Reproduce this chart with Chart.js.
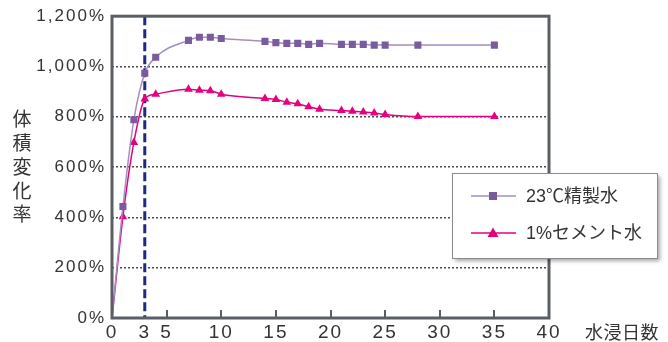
<!DOCTYPE html>
<html>
<head>
<meta charset="utf-8">
<script src="https://cdn.jsdelivr.net/npm/chart.js@4/dist/chart.umd.min.js"></script>
<style>
html,body{margin:0;padding:0;background:#fff;}
canvas{display:block;}
</style>
</head>
<body>
<canvas id="c" width="668" height="342"></canvas>
<script>
// ---- data ----
const days = [0,1,2,3,4,7,8,9,10,14,15,16,17,18,19,21,22,23,24,25,28,35];
const pureWater = [0,443,788,973,1037,1104,1116,1116,1111,1100,1095,1092,1092,1088,1092,1088,1088,1088,1085,1085,1085,1085];
const cementWater = [0,403,698,871,890,910,906,904,890,873,869,858,852,840,830,825,822,819,815,809,801,801];
const seriesNames = ['23℃精製水', '1%セメント水'];
const xTickValues = [0,3,5,10,15,20,25,30,35,40];
const yTickValues = [0,200,400,600,800,1000,1200];
const markerDay = 3;
const yTitle = '体積変化率';
const xTitle = '水浸日数';

const PURPLE_LINE = '#a38fc3';
const PURPLE_MARK = '#7a5c9e';
const PINK = '#e5007f';
const TEXT = '#333333';
const FRAME = '#5a5f65';
const LATIN = "'Liberation Sans', Arial, sans-serif";
const CJK = "'Liberation Sans', 'Noto Sans CJK JP', sans-serif";

function pts(vals){ return days.map((d,i)=>({x:d, y:vals[i]})); }
const hideZero = r => (ctx => (ctx.raw && ctx.raw.x === 0) ? 0 : r);

const decor = {
  id: 'decor',
  beforeDraw(chart){ chart.ctx.letterSpacing = '2px'; },
  beforeDatasetsDraw(chart){
    const {ctx, chartArea:a, scales:{x}} = chart;
    const px = x.getPixelForValue(markerDay);
    ctx.save();
    ctx.letterSpacing = '0px';
    ctx.strokeStyle = '#1d2a80';
    ctx.lineWidth = 3;
    ctx.setLineDash([9,4]);
    ctx.beginPath();
    ctx.moveTo(px, a.top);
    ctx.lineTo(px, a.bottom);
    ctx.stroke();
    ctx.restore();
  },
  afterDraw(chart){
    const {ctx, chartArea:a, scales:{x}} = chart;
    ctx.save();
    ctx.letterSpacing = '0px';
    // tick marks inside
    ctx.strokeStyle = FRAME;
    ctx.lineWidth = 2;
    xTickValues.forEach(v=>{
      if (v === x.min || v === x.max || v === markerDay) return;
      const px = Math.round(x.getPixelForValue(v));
      ctx.beginPath();
      ctx.moveTo(px, a.bottom);
      ctx.lineTo(px, a.bottom - 8);
      ctx.stroke();
    });
    // frame
    ctx.lineWidth = 3;
    ctx.strokeRect(a.left, a.top, a.right - a.left, a.bottom - a.top);
    // y title (vertical stacked)
    ctx.fillStyle = TEXT;
    ctx.font = "19px 'Noto Sans CJK JP', sans-serif";
    ctx.textAlign = 'center';
    ctx.textBaseline = 'middle';
    Array.from(yTitle).forEach((ch,i)=>{
      ctx.fillText(ch, 22, 119 + i*23.8);
    });
    // x title
    ctx.font = "18px 'Noto Sans CJK JP', sans-serif";
    ctx.textAlign = 'left';
    ctx.letterSpacing = '0.5px';
    ctx.fillText(xTitle, 585, 332);
    ctx.letterSpacing = '0px';
    // legend
    const bx = 452, by = 173, bw = 205, bh = 85;
    ctx.save();
    ctx.shadowColor = 'rgba(0,0,0,0.35)';
    ctx.shadowBlur = 4;
    ctx.shadowOffsetX = 3;
    ctx.shadowOffsetY = 3;
    ctx.fillStyle = '#ffffff';
    ctx.fillRect(bx, by, bw, bh);
    ctx.restore();
    ctx.strokeStyle = '#8c8c8c';
    ctx.lineWidth = 1;
    ctx.strokeRect(bx + 0.5, by + 0.5, bw, bh);
    chart.data.datasets.forEach((ds, i)=>{
      const cy = 196 + i*37;
      ctx.strokeStyle = ds.borderColor;
      ctx.lineWidth = 1.5;
      ctx.beginPath();
      ctx.moveTo(471, cy);
      ctx.lineTo(516, cy);
      ctx.stroke();
      ctx.fillStyle = ds.pointBackgroundColor;
      const mx = 493;
      if (ds.pointStyle === 'rect') {
        ctx.fillRect(mx - 4, cy - 4, 8, 8);
      } else {
        ctx.beginPath();
        ctx.moveTo(mx, cy - 5.5);
        ctx.lineTo(mx + 5.5, cy + 4);
        ctx.lineTo(mx - 5.5, cy + 4);
        ctx.closePath();
        ctx.fill();
      }
      ctx.fillStyle = TEXT;
      ctx.font = "18px " + CJK;
      ctx.textAlign = 'left';
      ctx.textBaseline = 'middle';
      ctx.fillText(ds.label, 526, cy + 1);
    });
    ctx.restore();
  }
};

new Chart(document.getElementById('c'), {
  type: 'line',
  data: {
    datasets: [
      {
        label: seriesNames[0],
        data: pts(pureWater),
        borderColor: PURPLE_LINE,
        borderWidth: 1.5,
        pointStyle: 'rect',
        pointRadius: hideZero(5),
        pointBackgroundColor: PURPLE_MARK,
        pointBorderColor: PURPLE_MARK,
        pointBorderWidth: 0,
        cubicInterpolationMode: 'monotone'
      },
      {
        label: seriesNames[1],
        data: pts(cementWater),
        borderColor: PINK,
        borderWidth: 1.5,
        pointStyle: 'triangle',
        pointRadius: hideZero(5),
        pointBackgroundColor: PINK,
        pointBorderColor: PINK,
        pointBorderWidth: 0,
        cubicInterpolationMode: 'monotone'
      }
    ]
  },
  options: {
    responsive: false,
    devicePixelRatio: 1,
    animation: false,
    layout: { padding: { top: 16, right: 119, bottom: 0, left: 0 } },
    plugins: { legend: { display: false }, tooltip: { enabled: false } },
    scales: {
      x: {
        type: 'linear',
        min: 0, max: 40,
        afterBuildTicks: s => { s.ticks = xTickValues.map(v => ({ value: v })); },
        afterFit: s => { s.height = 24; },
        grid: { display: false, drawTicks: false },
        border: { display: false },
        ticks: {
          autoSkip: false, maxRotation: 0, padding: 3,
          color: TEXT,
          font: { family: LATIN, size: 19 }
        }
      },
      y: {
        min: 0, max: 1200,
        afterBuildTicks: s => { s.ticks = yTickValues.map(v => ({ value: v })); },
        afterFit: s => { s.width = 112; },
        grid: {
          drawTicks: false,
          lineWidth: 1.5,
          color: c => (c.tick && (c.tick.value === 0 || c.tick.value === 1200)) ? 'rgba(0,0,0,0)' : '#4a4a4a'
        },
        border: { display: false, dash: [2, 2] },
        ticks: {
          padding: 6,
          color: TEXT,
          font: { family: LATIN, size: 17 },
          callback: v => v.toLocaleString('en-US') + '%'
        }
      }
    }
  },
  plugins: [decor]
});
</script>
</body>
</html>
